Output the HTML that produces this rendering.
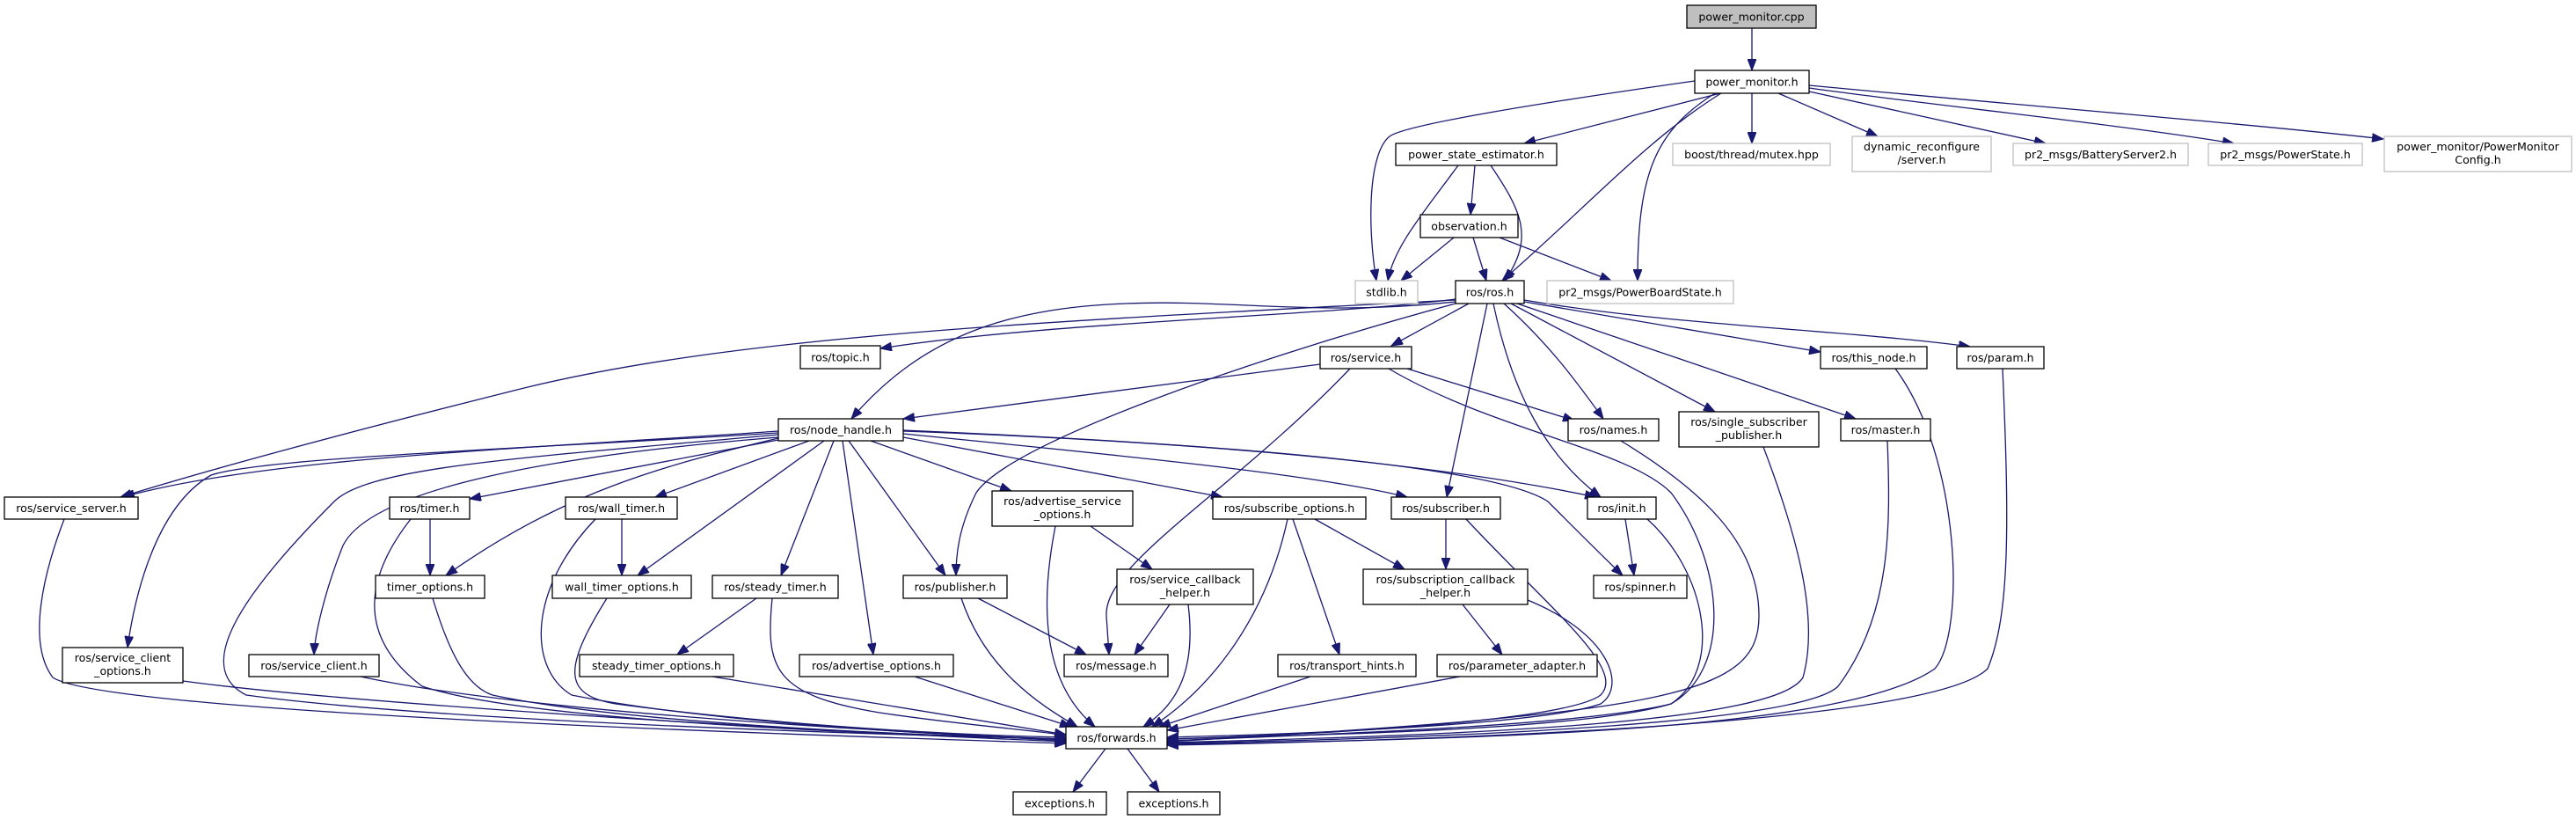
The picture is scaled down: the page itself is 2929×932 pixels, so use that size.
<!DOCTYPE html>
<html><head><meta charset="utf-8"><style>
html,body{margin:0;padding:0;background:#fff;}
svg{display:block;}
text{font-family:"DejaVu Sans","Liberation Sans",sans-serif;font-size:12.6px;fill:#000;text-anchor:middle;}
.e{fill:none;stroke:#191970;stroke-width:1.3;marker-end:url(#a);}
.n{fill:#fff;stroke:#000;stroke-width:1.3;}
.g{fill:#fff;stroke:#bfbfbf;stroke-width:1.3;}
</style></head><body>
<svg width="2929" height="932" viewBox="0 0 2929 932" xmlns="http://www.w3.org/2000/svg">
<defs><marker id="a" markerUnits="userSpaceOnUse" markerWidth="14" markerHeight="10" refX="13" refY="5" orient="auto"><path d="M0,0 L13,5 L0,10 Z" fill="#191970" stroke="#191970"/></marker></defs>
<g>
<path class="e" d="M1992,32 L1992,80"/>
<path class="e" d="M1927,92 C1800,110 1600,140 1580,155 C1555,175 1555,260 1565,319"/>
<path class="e" d="M1956,106 L1733,163"/>
<path class="e" d="M1957,106 C1870,160 1800,240 1708,319"/>
<path class="e" d="M1950,106 C1880,150 1862,200 1862,319"/>
<path class="e" d="M1992,106 L1992,163"/>
<path class="e" d="M2022,106 L2135,155"/>
<path class="e" d="M2057,104 L2326,163"/>
<path class="e" d="M2057,100 C2200,120 2400,140 2540,163"/>
<path class="e" d="M2057,97 C2300,120 2550,140 2710,158"/>
<path class="e" d="M1658,188 C1620,240 1585,280 1578,319"/>
<path class="e" d="M1677,188 L1672,244"/>
<path class="e" d="M1695,188 C1730,240 1745,270 1711,319"/>
<path class="e" d="M1653,270 L1593,319"/>
<path class="e" d="M1675,270 L1690,319"/>
<path class="e" d="M1705,270 L1832,319"/>
<path class="e" d="M1655,340 C1500,360 1200,365 1001,396"/>
<path class="e" d="M1655,343 C1500,360 1400,340 1280,345 C1150,350 1050,380 968,476"/>
<path class="e" d="M1655,341 C1200,365 850,380 600,440 C400,490 250,530 137,565"/>
<path class="e" d="M1670,345 L1582,393"/>
<path class="e" d="M1655,345 C1450,400 1150,500 1110,560 C1090,600 1087,630 1087,654"/>
<path class="e" d="M1691,345 L1645,565"/>
<path class="e" d="M1698,345 C1720,450 1760,520 1820,565"/>
<path class="e" d="M1710,345 C1760,390 1790,430 1823,476"/>
<path class="e" d="M1718,345 L1950,468"/>
<path class="e" d="M1725,345 L2110,476"/>
<path class="e" d="M1733,343 L2070,400"/>
<path class="e" d="M1733,341 C1900,370 2100,375 2240,394"/>
<path class="e" d="M1501,414 L1027,476"/>
<path class="e" d="M1600,419 L1790,478"/>
<path class="e" d="M1535,419 C1400,560 1255,640 1258,700 L1261,744"/>
<path class="e" d="M1579,419 C1700,490 1850,510 1900,560 C1960,640 1970,760 1900,800 C1800,830 1500,835 1327,840"/>
<path class="e" d="M885,490 C600,510 300,520 140,565"/>
<path class="e" d="M885,492 C600,510 300,520 240,540 C170,580 150,700 145,736"/>
<path class="e" d="M885,494 C600,520 420,530 380,570 C270,680 220,760 280,790 C500,820 1000,835 1212,840"/>
<path class="e" d="M885,497 C600,520 420,560 390,620 C370,670 358,720 357,744"/>
<path class="e" d="M885,500 L534,567"/>
<path class="e" d="M885,498 C750,530 640,560 507,654"/>
<path class="e" d="M920,501 L745,565"/>
<path class="e" d="M937,501 L725,654"/>
<path class="e" d="M948,501 L888,654"/>
<path class="e" d="M958,501 L993,744"/>
<path class="e" d="M965,501 L1075,654"/>
<path class="e" d="M990,501 L1150,558"/>
<path class="e" d="M1027,497 L1390,565"/>
<path class="e" d="M1027,493 C1300,520 1500,540 1600,565"/>
<path class="e" d="M1027,490 C1300,500 1600,520 1815,565"/>
<path class="e" d="M1027,489 C1400,505 1700,530 1760,570 C1800,610 1830,640 1845,654"/>
<path class="e" d="M73,590 C50,650 30,730 60,770 C120,810 900,835 1212,845"/>
<path class="e" d="M208,774 C400,800 900,830 1212,843"/>
<path class="e" d="M410,769 C600,810 1000,830 1212,842"/>
<path class="e" d="M489,590 L489,654"/>
<path class="e" d="M467,590 C420,650 400,720 480,780 C600,820 1000,835 1212,840"/>
<path class="e" d="M707,590 L707,654"/>
<path class="e" d="M677,590 C600,670 600,760 650,790 C800,820 1050,835 1212,840"/>
<path class="e" d="M492,680 C510,740 530,780 560,790 C700,820 1000,835 1212,840"/>
<path class="e" d="M690,680 C640,760 640,790 700,800 C850,820 1050,835 1212,838"/>
<path class="e" d="M860,680 L770,744"/>
<path class="e" d="M878,680 C870,760 880,790 1000,810 C1100,825 1180,830 1212,836"/>
<path class="e" d="M810,769 L1212,835"/>
<path class="e" d="M1040,769 L1218,826"/>
<path class="e" d="M1112,680 L1235,744"/>
<path class="e" d="M1093,680 C1120,760 1180,800 1225,826"/>
<path class="e" d="M1240,598 L1310,647"/>
<path class="e" d="M1200,598 C1180,700 1190,780 1245,826"/>
<path class="e" d="M1330,687 L1290,744"/>
<path class="e" d="M1351,687 C1360,760 1340,800 1300,826"/>
<path class="e" d="M1464,590 C1440,700 1380,780 1310,826"/>
<path class="e" d="M1470,590 L1523,744"/>
<path class="e" d="M1495,590 L1597,647"/>
<path class="e" d="M1644,590 L1644,647"/>
<path class="e" d="M1667,590 C1760,690 1850,760 1820,790 C1780,820 1500,835 1327,840"/>
<path class="e" d="M1848,590 L1858,654"/>
<path class="e" d="M1873,590 C1940,650 1960,760 1900,800 C1800,825 1500,835 1327,842"/>
<path class="e" d="M1663,687 L1708,744"/>
<path class="e" d="M1737,682 C1830,720 1850,780 1820,800 C1750,825 1450,835 1327,838"/>
<path class="e" d="M1490,769 L1318,826"/>
<path class="e" d="M1660,769 L1327,830"/>
<path class="e" d="M1843,501 C1940,560 2000,620 2000,700 C2000,790 1900,810 1327,843"/>
<path class="e" d="M2005,508 C2040,600 2070,700 2050,770 C2020,820 1700,835 1327,844"/>
<path class="e" d="M2146,501 C2150,600 2150,700 2090,780 C2050,820 1700,838 1327,845"/>
<path class="e" d="M2155,419 C2230,520 2235,720 2200,760 C2100,830 1700,840 1327,846"/>
<path class="e" d="M2277,419 C2285,600 2285,700 2260,760 C2200,820 1700,840 1327,847"/>
<path class="e" d="M1257,851 L1220,900"/>
<path class="e" d="M1282,851 L1318,900"/>
</g>
<g>
<rect x="1918" y="6" width="147" height="26" fill="#bfbfbf" stroke="#000" stroke-width="1.3"/><text x="1991.5" y="23.5">power_monitor.cpp</text>
<rect class="n" x="1927" y="80" width="130" height="26"/><text x="1992" y="97.5">power_monitor.h</text>
<rect class="n" x="1587" y="163" width="183" height="25"/><text x="1678.5" y="180">power_state_estimator.h</text>
<rect class="n" x="1615" y="244" width="111" height="26"/><text x="1670.5" y="261.5">observation.h</text>
<rect class="g" x="1541" y="319" width="71" height="26"/><text x="1576.5" y="336.5">stdlib.h</text>
<rect class="n" x="1655" y="319" width="78" height="26"/><text x="1694" y="336.5">ros/ros.h</text>
<rect class="g" x="1759" y="319" width="212" height="26"/><text x="1865" y="336.5">pr2_msgs/PowerBoardState.h</text>
<rect class="g" x="1902" y="163" width="179" height="25"/><text x="1991.5" y="180">boost/thread/mutex.hpp</text>
<rect class="g" x="2106" y="155" width="158" height="40"/><text x="2185" y="171">dynamic_reconfigure</text><text x="2185" y="186">/server.h</text>
<rect class="g" x="2289" y="163" width="199" height="25"/><text x="2388.5" y="180">pr2_msgs/BatteryServer2.h</text>
<rect class="g" x="2511" y="163" width="175" height="25"/><text x="2598.5" y="180">pr2_msgs/PowerState.h</text>
<rect class="g" x="2711" y="155" width="213" height="40"/><text x="2817.5" y="171">power_monitor/PowerMonitor</text><text x="2817.5" y="186">Config.h</text>
<rect class="n" x="910" y="393" width="91" height="26"/><text x="955.5" y="410.5">ros/topic.h</text>
<rect class="n" x="1501" y="394" width="104" height="25"/><text x="1553" y="411">ros/service.h</text>
<rect class="n" x="2070" y="394" width="121" height="25"/><text x="2130.5" y="411">ros/this_node.h</text>
<rect class="n" x="2225" y="394" width="99" height="25"/><text x="2274.5" y="411">ros/param.h</text>
<rect class="n" x="885" y="476" width="142" height="25"/><text x="956" y="493">ros/node_handle.h</text>
<rect class="n" x="1783" y="476" width="103" height="25"/><text x="1834.5" y="493">ros/names.h</text>
<rect class="n" x="1909" y="468" width="159" height="40"/><text x="1988.5" y="484">ros/single_subscriber</text><text x="1988.5" y="499">_publisher.h</text>
<rect class="n" x="2093" y="476" width="102" height="25"/><text x="2144" y="493">ros/master.h</text>
<rect class="n" x="5" y="565" width="152" height="25"/><text x="81" y="582">ros/service_server.h</text>
<rect class="n" x="443" y="565" width="91" height="25"/><text x="488.5" y="582">ros/timer.h</text>
<rect class="n" x="643" y="565" width="127" height="25"/><text x="706.5" y="582">ros/wall_timer.h</text>
<rect class="n" x="1128" y="558" width="160" height="40"/><text x="1208" y="574">ros/advertise_service</text><text x="1208" y="589">_options.h</text>
<rect class="n" x="1379" y="565" width="174" height="25"/><text x="1466" y="582">ros/subscribe_options.h</text>
<rect class="n" x="1582" y="565" width="124" height="25"/><text x="1644" y="582">ros/subscriber.h</text>
<rect class="n" x="1805" y="565" width="78" height="25"/><text x="1844" y="582">ros/init.h</text>
<rect class="n" x="427" y="654" width="124" height="26"/><text x="489" y="671.5">timer_options.h</text>
<rect class="n" x="628" y="654" width="158" height="26"/><text x="707" y="671.5">wall_timer_options.h</text>
<rect class="n" x="810" y="654" width="143" height="26"/><text x="881.5" y="671.5">ros/steady_timer.h</text>
<rect class="n" x="1027" y="654" width="118" height="26"/><text x="1086" y="671.5">ros/publisher.h</text>
<rect class="n" x="1270" y="647" width="155" height="40"/><text x="1347.5" y="663">ros/service_callback</text><text x="1347.5" y="678">_helper.h</text>
<rect class="n" x="1550" y="647" width="187" height="40"/><text x="1643.5" y="663">ros/subscription_callback</text><text x="1643.5" y="678">_helper.h</text>
<rect class="n" x="1812" y="654" width="106" height="26"/><text x="1865" y="671.5">ros/spinner.h</text>
<rect class="n" x="71" y="736" width="137" height="40"/><text x="139.5" y="752">ros/service_client</text><text x="139.5" y="767">_options.h</text>
<rect class="n" x="283" y="744" width="148" height="25"/><text x="357" y="761">ros/service_client.h</text>
<rect class="n" x="659" y="744" width="175" height="25"/><text x="746.5" y="761">steady_timer_options.h</text>
<rect class="n" x="909" y="744" width="175" height="25"/><text x="996.5" y="761">ros/advertise_options.h</text>
<rect class="n" x="1210" y="744" width="118" height="25"/><text x="1269" y="761">ros/message.h</text>
<rect class="n" x="1453" y="744" width="157" height="25"/><text x="1531.5" y="761">ros/transport_hints.h</text>
<rect class="n" x="1634" y="744" width="182" height="25"/><text x="1725" y="761">ros/parameter_adapter.h</text>
<rect class="n" x="1212" y="826" width="115" height="25"/><text x="1269.5" y="843">ros/forwards.h</text>
<rect class="n" x="1152" y="900" width="106" height="26"/><text x="1205" y="917.5">exceptions.h</text>
<rect class="n" x="1282" y="900" width="105" height="26"/><text x="1334.5" y="917.5">exceptions.h</text>
</g>
</svg>
</body></html>
